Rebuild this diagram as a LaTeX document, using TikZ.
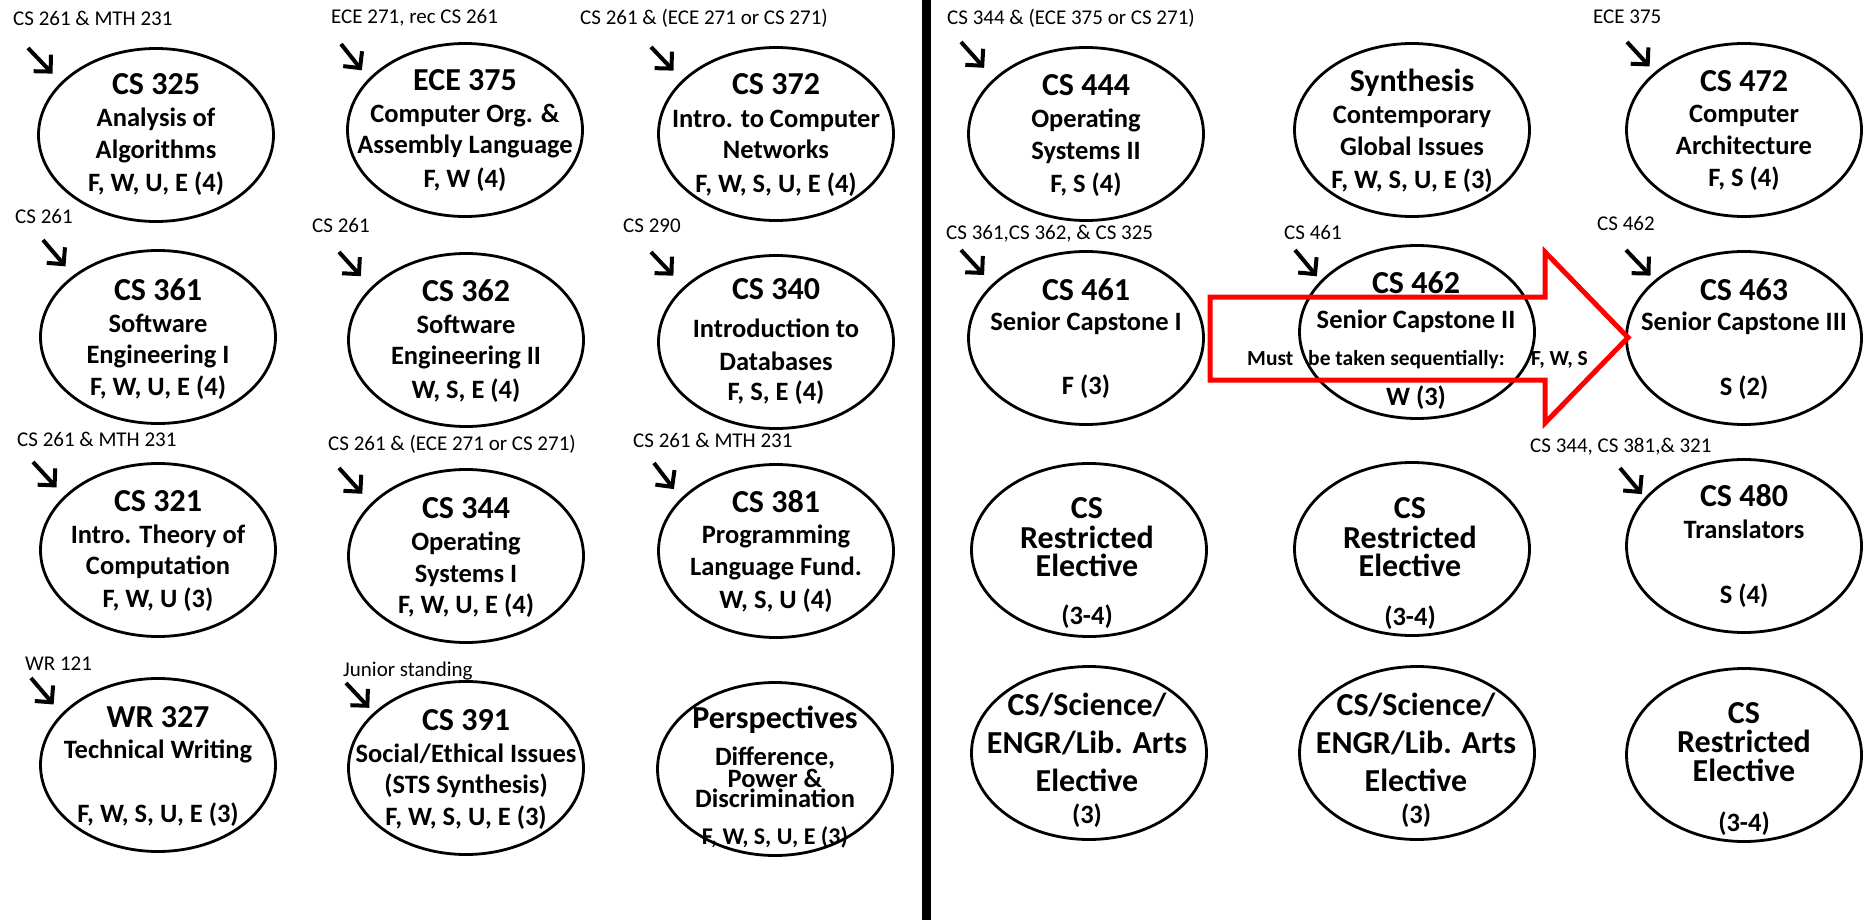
\documentclass[tikz,border=0pt]{standalone}
\usepackage{fontspec}
\setmainfont{Carlito}
\usetikzlibrary{arrows.meta,shapes.geometric}
\newcommand\tx[5]{\node[#1] (#2) at (#3,#4) {#5};}
\begin{document}
\begin{tikzpicture}[x=1pt,y=-1pt,
  course/.style={draw, ellipse, line width=2.8pt, minimum width=235pt, minimum height=173pt, inner sep=0pt},
  ttl/.style={font=\bfseries\fontsize{32}{38}\selectfont, anchor=base, inner sep=0pt},
  sub/.style={font=\bfseries\fontsize{26.5}{31}\selectfont, anchor=base, inner sep=0pt},
  sml/.style={font=\bfseries\fontsize{24}{29}\selectfont, anchor=base, inner sep=0pt},
  lbl/.style={font=\fontsize{21}{25}\selectfont, anchor=base west, inner sep=0pt},
  mst/.style={font=\bfseries\fontsize{21.5}{25}\selectfont, anchor=base west, inner sep=0pt},
  prereq/.style={line width=4pt, -{Straight Barb[length=12pt,width=24pt]}},
  seqarrow/.style={draw=red, line width=5pt, miter limit=10}]
\useasboundingbox (0,0) rectangle (1863,920);
\fill[white] (0,0) rectangle (1863,920);
\fill[black] (922,0) rectangle (931,920);

% ---------------- ellipses ----------------
\node[course] (e325) at (156,135) {};
\node[course] (e375) at (465,130) {};
\node[course] (e372) at (776,134) {};
\node[course] (e361) at (158,337) {};
\node[course] (e362) at (466,340) {};
\node[course] (e340) at (776,342) {};
\node[course] (e321) at (158,550) {};
\node[course] (e344) at (466,556) {};
\node[course] (e381) at (776,551) {};
\node[course] (e327) at (158,765) {};
\node[course] (e391) at (466,768) {};
\node[course] (epers) at (775,769) {};
\node[course] (e444) at (1086,134) {};
\node[course] (esyn) at (1412,130) {};
\node[course] (e472) at (1744,130) {};
\node[course] (e461) at (1086,338) {};
\node[course] (e462) at (1417,332) {};
\node[course] (e463) at (1744,338) {};
\node[course] (ere1) at (1089,550) {};
\node[course] (ere2) at (1412,549) {};
\node[course] (e480) at (1744,546) {};
\node[course] (eel1) at (1089,753) {};
\node[course] (eel2) at (1417,753) {};
\node[course] (ere3) at (1744,755) {};

% ---------------- red sequence arrow ----------------
\draw[seqarrow] (1210,297) -- (1545,297) -- (1545,252) -- (1628,337.5) -- (1545,423) -- (1545,380) -- (1210,380) -- cycle;
\tx{mst}{must1}{1247}{365}{Must}
\tx{mst}{must2}{1308}{365}{be taken sequentially:}
\tx{mst}{must3}{1531}{365}{F, W, S}

% ---------------- prerequisite labels ----------------
\tx{lbl}{p325}{13}{26}{CS 261 \& MTH 231}
\tx{lbl}{p375}{331}{24}{ECE 271, rec CS 261}
\tx{lbl}{p372}{580}{25}{CS 261 \& (ECE 271 or CS 271)}
\tx{lbl}{p361}{15}{224}{CS 261}
\tx{lbl}{p362}{312}{233}{CS 261}
\tx{lbl}{p340}{623}{233}{CS 290}
\tx{lbl}{p321}{17}{446}{CS 261 \& MTH 231}
\tx{lbl}{p344}{328}{450}{CS 261 \& (ECE 271 or CS 271)}
\tx{lbl}{p381}{633}{447}{CS 261 \& MTH 231}
\tx{lbl}{p327}{25}{670}{WR 121}
\tx{lbl}{p391}{343}{676}{Junior standing}
\tx{lbl}{p444}{947}{25}{CS 344 \& (ECE 375 or CS 271)}
\tx{lbl}{p472}{1593}{24}{ECE 375}
\tx{lbl}{p461}{946}{240}{CS 361,CS 362, \& CS 325}
\tx{lbl}{p462}{1284}{240}{CS 461}
\tx{lbl}{p463}{1597}{230}{CS 462}
\tx{lbl}{p480}{1530}{452}{CS 344, CS 381,\& 321}

% ---------------- prerequisite arrows ----------------
\coordinate (s325) at (28,48);   \draw[prereq, shorten >=12pt] (s325) -- (e325.151);
\coordinate (s375) at (341,44);  \draw[prereq, shorten >=10.7pt] (s375) -- (e375.152);
\coordinate (s372) at (651,47);  \draw[prereq, shorten >=12.8pt] (s372) -- (e372.150);
\coordinate (s361) at (43,240);  \draw[prereq, shorten >=11.9pt] (s361) -- (e361.144);
\coordinate (s362) at (339,252); \draw[prereq, shorten >=14.9pt] (s362) -- (e362.151);
\coordinate (s340) at (651,252); \draw[prereq, shorten >=15pt] (s340) -- (e340.149);
\coordinate (s321) at (33,462);  \draw[prereq, shorten >=11.5pt] (s321) -- (e321.150);
\coordinate (s344) at (339,468); \draw[prereq, shorten >=12.8pt] (s344) -- (e344.151);
\coordinate (s381) at (654,463); \draw[prereq, shorten >=11.5pt] (s381) -- (e381.151);
\coordinate (s327) at (31,678);  \draw[prereq, shorten >=12.1pt] (s327) -- (e327.152);
\coordinate (s391) at (346,683); \draw[prereq, shorten >=6.5pt] (s391) -- (e391.149);
\coordinate (s444) at (961,42);  \draw[prereq, shorten >=14.4pt] (s444) -- (e444.149);
\coordinate (s472) at (1627,42); \draw[prereq, shorten >=7.5pt] (s472) -- (e472.147);
\coordinate (s461) at (961,250); \draw[prereq, shorten >=12.1pt] (s461) -- (e461.150);
\coordinate (s462) at (1295,250); \draw[prereq, shorten >=5.7pt] (s462) -- (e462.152);
\coordinate (s463) at (1626,250); \draw[prereq, shorten >=6.1pt] (s463) -- (e463.147);
\coordinate (s480) at (1620,468); \draw[prereq, shorten >=4.5pt] (s480) -- (e480.154);

% ---------------- course texts: left panel ----------------
\tx{ttl}{t325a}{156}{95}{CS 325}
\tx{sub}{t325b}{156}{127}{Analysis of}
\tx{sub}{t325c}{156}{159}{Algorithms}
\tx{sub}{t325d}{156}{192}{F, W, U, E (4)}

\tx{ttl}{t375a}{465}{91}{ECE 375}
\tx{sub}{t375b}{465}{123}{Computer Org. \&}
\tx{sub}{t375c}{465}{154}{Assembly Language}
\tx{sub}{t375d}{465}{188}{F, W (4)}

\tx{ttl}{t372a}{776}{95}{CS 372}
\tx{sub}{t372b}{776}{128}{Intro. to Computer}
\tx{sub}{t372c}{776}{159}{Networks}
\tx{sub}{t372d}{776}{193}{F, W, S, U, E (4)}

\tx{ttl}{t361a}{158}{300}{CS 361}
\tx{sub}{t361b}{158}{332}{Software}
\tx{sub}{t361c}{158}{363}{Engineering I}
\tx{sub}{t361d}{158}{395}{F, W, U, E (4)}

\tx{ttl}{t362a}{466}{301}{CS 362}
\tx{sub}{t362b}{466}{333}{Software}
\tx{sub}{t362c}{466}{364}{Engineering II}
\tx{sub}{t362d}{466}{398}{W, S, E (4)}

\tx{ttl}{t340a}{776}{299}{CS 340}
\tx{sub}{t340b}{776}{337}{Introduction to}
\tx{sub}{t340c}{776}{370}{Databases}
\tx{sub}{t340d}{776}{400}{F, S, E (4)}

\tx{ttl}{t321a}{158}{511}{CS 321}
\tx{sub}{t321b}{158}{543}{Intro. Theory of}
\tx{sub}{t321c}{158}{574}{Computation}
\tx{sub}{t321d}{158}{607}{F, W, U (3)}

\tx{ttl}{t344a}{466}{518}{CS 344}
\tx{sub}{t344b}{466}{550}{Operating}
\tx{sub}{t344c}{466}{582}{Systems I}
\tx{sub}{t344d}{466}{613}{F, W, U, E (4)}

\tx{ttl}{t381a}{776}{512}{CS 381}
\tx{sub}{t381b}{776}{543}{Programming}
\tx{sub}{t381c}{776}{575}{Language Fund.}
\tx{sub}{t381d}{776}{608}{W, S, U (4)}

\tx{ttl}{t327a}{158}{727}{WR 327}
\tx{sub}{t327b}{158}{758}{Technical Writing}
\tx{sub}{t327d}{158}{822}{F, W, S, U, E (3)}

\tx{ttl}{t391a}{466}{730}{CS 391}
\tx{sub}{t391b}{466}{762}{Social/Ethical Issues}
\tx{sub}{t391c}{466}{793}{(STS Synthesis)}
\tx{sub}{t391d}{466}{825}{F, W, S, U, E (3)}

\tx{ttl}{tpersa}{775}{728}{Perspectives}
\tx{sub}{tpersb}{775}{765}{Difference,}
\tx{sub}{tpersc}{775}{787}{Power \&}
\tx{sub}{tpersd}{775}{807}{Discrimination}
\tx{sml}{tperse}{775}{844}{F, W, S, U, E (3)}

% ---------------- course texts: right panel ----------------
\tx{ttl}{t444a}{1086}{96}{CS 444}
\tx{sub}{t444b}{1086}{128}{Operating}
\tx{sub}{t444c}{1086}{160}{Systems II}
\tx{sub}{t444d}{1086}{193}{F, S (4)}

\tx{ttl}{tsyna}{1412}{92}{Synthesis}
\tx{sub}{tsynb}{1412}{124}{Contemporary}
\tx{sub}{tsync}{1412}{156}{Global Issues}
\tx{sub}{tsynd}{1412}{189}{F, W, S, U, E (3)}

\tx{ttl}{t472a}{1744}{92}{CS 472}
\tx{sub}{t472b}{1744}{123}{Computer}
\tx{sub}{t472c}{1744}{155}{Architecture}
\tx{sub}{t472d}{1744}{187}{F, S (4)}

\tx{ttl}{t461a}{1086}{300}{CS 461}
\tx{sub}{t461b}{1086}{330}{Senior Capstone I}
\tx{sub}{t461d}{1086}{394}{F (3)}

\tx{ttl}{t462a}{1416}{293}{CS 462}
\tx{sub}{t462b}{1416}{328}{Senior Capstone II}
\tx{sub}{t462d}{1416}{405}{W (3)}

\tx{ttl}{t463a}{1744}{300}{CS 463}
\tx{sub}{t463b}{1744}{330}{Senior Capstone III}
\tx{sub}{t463d}{1744}{395}{S (2)}

\tx{ttl}{tre1a}{1087}{518}{CS}
\tx{ttl}{tre1b}{1087}{548}{Restricted}
\tx{ttl}{tre1c}{1087}{576}{Elective}
\tx{sub}{tre1d}{1087}{624}{(3-4)}

\tx{ttl}{tre2a}{1410}{518}{CS}
\tx{ttl}{tre2b}{1410}{548}{Restricted}
\tx{ttl}{tre2c}{1410}{576}{Elective}
\tx{sub}{tre2d}{1410}{625}{(3-4)}

\tx{ttl}{t480a}{1744}{506}{CS 480}
\tx{sub}{t480b}{1744}{538}{Translators}
\tx{sub}{t480d}{1744}{603}{S (4)}

\tx{ttl}{tel1a}{1087}{715}{CS/Science/}
\tx{ttl}{tel1b}{1087}{753}{ENGR/Lib. Arts}
\tx{ttl}{tel1c}{1087}{791}{Elective}
\tx{sub}{tel1d}{1087}{823}{(3)}

\tx{ttl}{tel2a}{1416}{715}{CS/Science/}
\tx{ttl}{tel2b}{1416}{753}{ENGR/Lib. Arts}
\tx{ttl}{tel2c}{1416}{791}{Elective}
\tx{sub}{tel2d}{1416}{823}{(3)}

\tx{ttl}{tre3a}{1744}{723}{CS}
\tx{ttl}{tre3b}{1744}{752}{Restricted}
\tx{ttl}{tre3c}{1744}{781}{Elective}
\tx{sub}{tre3d}{1744}{831}{(3-4)}
\end{tikzpicture}
\end{document}
